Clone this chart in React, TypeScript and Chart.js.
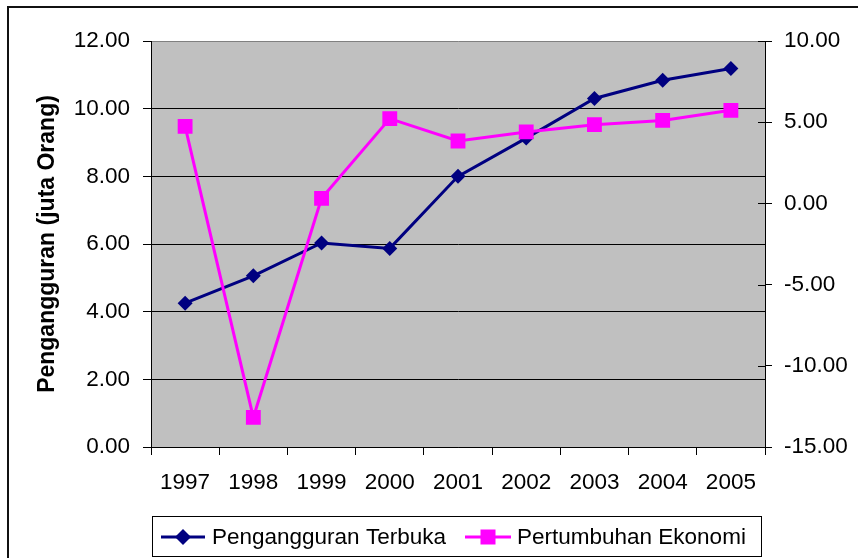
import React, { useEffect, useRef } from "react";
import { Chart, registerables } from "chart.js";

Chart.register(...registerables);

// ---- Data ----
const years = ["1997", "1998", "1999", "2000", "2001", "2002", "2003", "2004", "2005"];
const penganggurTerbuka = [4.25, 5.06, 6.03, 5.87, 8.0, 9.13, 10.3, 10.84, 11.19];
const pertumbuhanEkonomi = [4.74, -13.18, 0.31, 5.22, 3.84, 4.4, 4.85, 5.11, 5.73];
const seriesLabels = ["Pengangguran Terbuka", "Pertumbuhan Ekonomi"];
const leftAxisTitle = "Pengangguran (juta Orang)";
const leftRange = [0, 12, 2];
const rightRange = [-15, 10, 5];

const NAVY = "#000080";
const MAGENTA = "#FF00FF";
const PLOT_BG = "#C0C0C0";
const FONT = "'Liberation Sans', Arial, sans-serif";
const FS = 22.5;

const W = 858;
const H = 558;

function drawDiamond(ctx: CanvasRenderingContext2D, x: number, y: number, r: number, color: string) {
  ctx.beginPath();
  ctx.moveTo(x - r, y);
  ctx.lineTo(x, y - r);
  ctx.lineTo(x + r, y);
  ctx.lineTo(x, y + r);
  ctx.closePath();
  ctx.fillStyle = color;
  ctx.fill();
}

function drawSquare(ctx: CanvasRenderingContext2D, x: number, y: number, s: number, color: string) {
  ctx.fillStyle = color;
  ctx.fillRect(x - s, y - s, 2 * s, 2 * s);
}

const decorPlugin = {
  id: "decor",
  beforeDraw(chart: any) {
    const ctx: CanvasRenderingContext2D = chart.ctx;
    const a = chart.chartArea;
    ctx.save();
    ctx.fillStyle = "#ffffff";
    ctx.fillRect(0, 0, chart.width, chart.height);
    ctx.fillStyle = PLOT_BG;
    ctx.fillRect(a.left, a.top, a.right - a.left, a.bottom - a.top);
    ctx.restore();
  },
  afterDraw(chart: any) {
    const ctx: CanvasRenderingContext2D = chart.ctx;
    const a = chart.chartArea;
    ctx.save();
    // outer frame (cropped on right/bottom)
    ctx.strokeStyle = "#111";
    ctx.lineWidth = 2;
    ctx.strokeRect(8, 7, chart.width + 20, chart.height + 20);

    // inner part of right axis ticks
    const y1 = chart.scales.y1;
    ctx.strokeStyle = "#000";
    ctx.lineWidth = 1;
    y1.ticks.forEach((t: any) => {
      const py = Math.round(y1.getPixelForValue(t.value)) + 0.5;
      ctx.beginPath();
      ctx.moveTo(a.right - 7, py);
      ctx.lineTo(a.right, py);
      ctx.stroke();
    });

    // legend
    const bx = 152.5, by = 516.5, bw = 609, bh = 40;
    ctx.strokeStyle = "#000";
    ctx.lineWidth = 1;
    ctx.strokeRect(bx, by, bw, bh);
    const cy = 537;
    const ds = chart.data.datasets;
    const items = [
      { ds: ds[0], x1: 161, x2: 205, tx: 212, shape: "diamond" },
      { ds: ds[1], x1: 465, x2: 511, tx: 517, shape: "square" },
    ];
    ctx.font = `${FS}px ${FONT}`;
    ctx.textBaseline = "middle";
    ctx.textAlign = "left";
    items.forEach((it) => {
      const color = it.ds.borderColor;
      ctx.strokeStyle = color;
      ctx.lineWidth = 3;
      ctx.beginPath();
      ctx.moveTo(it.x1, cy);
      ctx.lineTo(it.x2, cy);
      ctx.stroke();
      const mx = (it.x1 + it.x2) / 2;
      if (it.shape === "diamond") drawDiamond(ctx, mx, cy, 8, color);
      else drawSquare(ctx, mx, cy, 7.5, color);
      ctx.fillStyle = "#000";
      ctx.fillText(it.ds.label, it.tx, cy + 1);
    });
    ctx.restore();
  },
};

export default function App() {
  const ref = useRef<HTMLCanvasElement | null>(null);

  useEffect(() => {
    if (!ref.current) return;
    const tickFont = { family: FONT, size: FS };
    const chart = new Chart(ref.current, {
      type: "line",
      data: {
        labels: years,
        datasets: [
          {
            label: seriesLabels[0],
            data: penganggurTerbuka,
            yAxisID: "y",
            borderColor: NAVY,
            backgroundColor: NAVY,
            borderWidth: 3,
            pointStyle: "rectRot",
            pointRadius: 7.5,
            pointBorderWidth: 0,
            tension: 0,
            order: 1,
          },
          {
            label: seriesLabels[1],
            data: pertumbuhanEkonomi,
            yAxisID: "y1",
            borderColor: MAGENTA,
            backgroundColor: MAGENTA,
            borderWidth: 3,
            pointStyle: "rect",
            pointRadius: 10.5,
            pointBorderWidth: 0,
            tension: 0,
            order: 0,
          },
        ],
      },
      options: {
        animation: false,
        responsive: false,
        devicePixelRatio: 1,
        layout: { padding: { top: 41, left: 0, right: 0, bottom: 0 } },
        plugins: {
          legend: { display: false },
          tooltip: { enabled: false },
        },
        scales: {
          x: {
            type: "category",
            offset: true,
            grid: {
              offset: true,
              drawOnChartArea: false,
              tickLength: 8,
              color: "#000",
            },
            border: { display: true, color: "#000", width: 1 },
            ticks: { font: tickFont, color: "#000", padding: 14, maxRotation: 0, autoSkip: false },
            afterFit: (s: any) => {
              s.height = H - 447;
            },
          },
          y: {
            position: "left",
            min: leftRange[0],
            max: leftRange[1],
            ticks: {
              stepSize: leftRange[2],
              font: tickFont,
              color: "#000",
              padding: 13,
              callback: (v: any) => Number(v).toFixed(2),
            },
            grid: {
              color: (c: any) => (c.tick && c.tick.value === leftRange[1] ? "#808080" : "#000"),
              tickColor: "#000",
              tickLength: 8,
              lineWidth: 1,
            },
            border: { display: true, color: "#000", width: 1 },
            title: {
              display: true,
              text: leftAxisTitle,
              color: "#000",
              font: { family: FONT, size: 23, weight: "bold", lineHeight: 1 },
              padding: { top: 36, bottom: 0 },
            },
            afterFit: (s: any) => {
              s.width = 151;
            },
          },
          y1: {
            position: "right",
            min: rightRange[0],
            max: rightRange[1],
            ticks: {
              stepSize: rightRange[2],
              font: tickFont,
              color: "#000",
              padding: 12,
              callback: (v: any) => Number(v).toFixed(2),
            },
            grid: {
              drawOnChartArea: false,
              tickLength: 7,
              color: "#000",
            },
            border: { display: true, color: "#000", width: 1 },
            afterFit: (s: any) => {
              s.width = W - 765;
            },
          },
        },
      },
      plugins: [decorPlugin],
    } as any);
    return () => chart.destroy();
  }, []);

  return (
    <canvas
      ref={ref}
      width={W}
      height={H}
      style={{ position: "absolute", left: 0, top: 0, width: W, height: H, display: "block" }}
    />
  );
}
